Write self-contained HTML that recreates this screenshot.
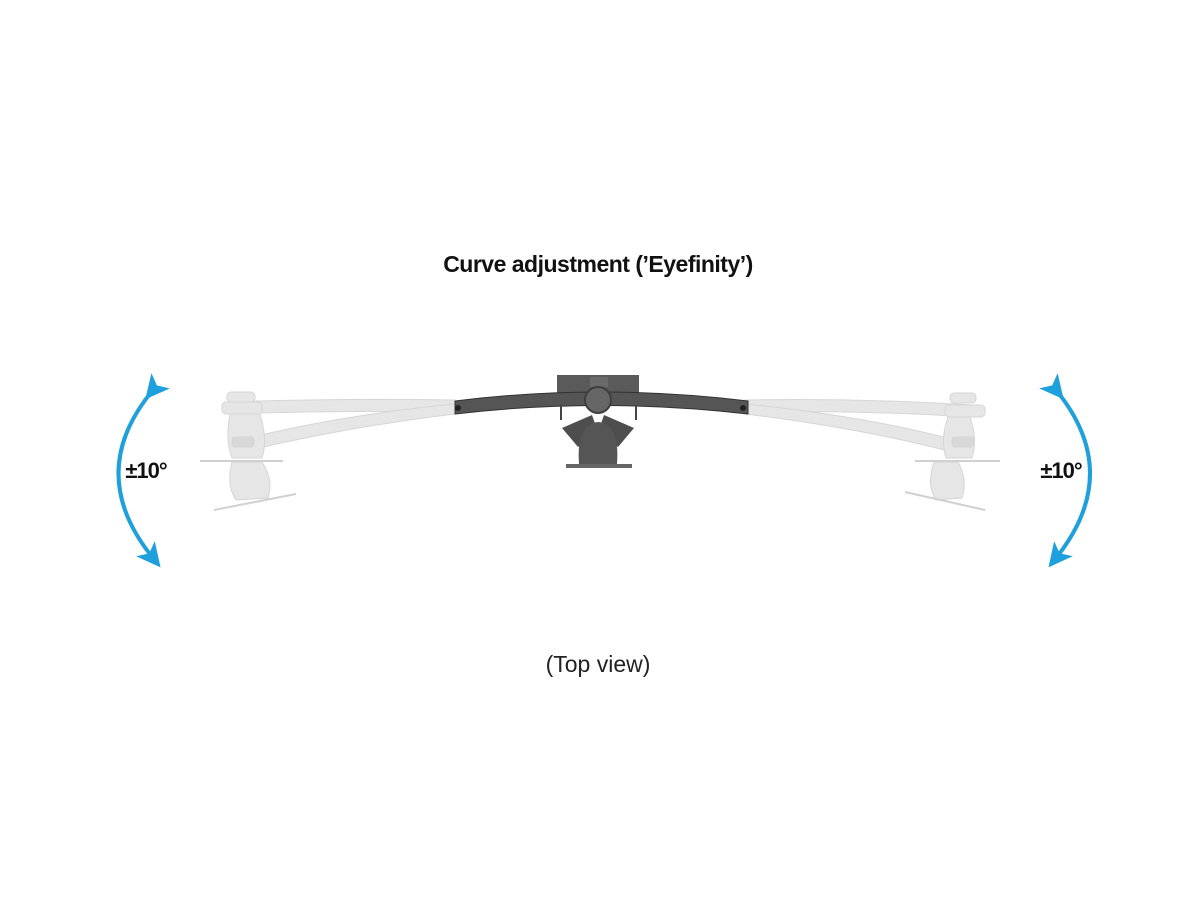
<!DOCTYPE html>
<html><head><meta charset="utf-8"><style>
html,body{margin:0;padding:0;background:#fff;}
svg{display:block}
</style></head><body>
<svg width="1200" height="900" viewBox="0 0 1200 900" xmlns="http://www.w3.org/2000/svg">
<defs>
<marker id="ah" markerWidth="6" markerHeight="6" refX="3" refY="3" orient="auto" markerUnits="strokeWidth">
<path d="M0,0 L6,3 L0,6 L1.5,3 Z" fill="#1ea0dc"/>
</marker>
</defs>
<text x="598" y="272" text-anchor="middle" font-family="Liberation Sans, sans-serif" font-weight="bold" font-size="23" fill="#111" letter-spacing="-0.5">Curve adjustment (’Eyefinity’)</text>
<text x="598" y="672" text-anchor="middle" font-family="Liberation Sans, sans-serif" font-size="23" fill="#222">(Top view)</text>
<text x="146" y="478" text-anchor="middle" font-family="Liberation Sans, sans-serif" font-weight="bold" font-size="22" fill="#111" letter-spacing="-1">±10°</text>
<text x="1061" y="478" text-anchor="middle" font-family="Liberation Sans, sans-serif" font-weight="bold" font-size="22" fill="#111" letter-spacing="-1">±10°</text>
<!-- arrows -->
<path d="M153,390 Q84,473 153,558" fill="none" stroke="#1ea0dc" stroke-width="4" marker-start="url(#ah)" marker-end="url(#ah)"/>
<path d="M1056,390 Q1124,473 1056,558" fill="none" stroke="#1ea0dc" stroke-width="4" marker-start="url(#ah)" marker-end="url(#ah)"/>
<!-- ghost left -->
<g fill="#e6e6e6" stroke="#d6d6d6" stroke-width="1">
<path d="M455,400 Q340,398 228,402 L228,414 Q340,410 455,412 Z"/>
<path d="M455,404 Q340,415 240,440 L243,452 Q340,428 455,414 Z"/>
<rect x="227" y="392" width="28" height="10" rx="4"/>
<rect x="222" y="402" width="40" height="12" rx="4"/>
<path d="M230,414 Q225,440 232,458 L262,458 Q268,440 260,414 Z"/>
<path d="M232,462 Q226,485 236,500 L268,498 Q274,480 262,462 Z"/>
<rect x="232" y="437" width="22" height="10" rx="3" fill="#d8d8d8"/>
<line x1="200" y1="461" x2="283" y2="461" stroke="#d0d0d0" stroke-width="2"/>
<line x1="214" y1="510" x2="296" y2="494" stroke="#d0d0d0" stroke-width="2"/>
</g>
<!-- ghost right -->
<g fill="#e6e6e6" stroke="#d6d6d6" stroke-width="1">
<path d="M745,400 Q860,398 972,405 L972,417 Q860,410 745,412 Z"/>
<path d="M745,404 Q860,415 955,440 L952,452 Q860,428 745,414 Z"/>
<rect x="950" y="393" width="26" height="10" rx="4"/>
<rect x="945" y="405" width="40" height="12" rx="4"/>
<path d="M948,417 Q940,440 946,458 L972,458 Q978,440 970,417 Z"/>
<path d="M934,462 Q926,485 936,500 L962,498 Q968,480 958,462 Z"/>
<rect x="952" y="437" width="22" height="10" rx="3" fill="#d8d8d8"/>
<line x1="915" y1="461" x2="1000" y2="461" stroke="#d0d0d0" stroke-width="2"/>
<line x1="905" y1="492" x2="985" y2="510" stroke="#d0d0d0" stroke-width="2"/>
</g>
<!-- center mount -->
<g>
<rect x="557" y="375" width="82" height="28" fill="#5a5a5a"/>
<rect x="590" y="377" width="18" height="10" fill="#6a6a6a"/>
<path d="M592,415 L562,428 L578,447 L598,432 Z" fill="#4e4e4e"/>
<path d="M604,415 L634,428 L618,447 L598,432 Z" fill="#4e4e4e"/>
<path d="M579,464 Q576,424 598,422 Q620,424 617,464 Z" fill="#555"/>
<rect x="566" y="464" width="66" height="4" fill="#666"/>
<path d="M455,401 Q600,383 748,401 L748,414 Q600,397 455,414 Z" fill="#555" stroke="#333" stroke-width="1"/>
<circle cx="458" cy="408" r="3" fill="#222"/>
<circle cx="743" cy="408" r="3" fill="#222"/>
<circle cx="598" cy="400" r="13" fill="#666" stroke="#3e3e3e" stroke-width="2"/>
<line x1="561" y1="405" x2="561" y2="420" stroke="#444" stroke-width="2"/>
<line x1="636" y1="405" x2="636" y2="420" stroke="#444" stroke-width="2"/>
</g>
</svg>
</body></html>
